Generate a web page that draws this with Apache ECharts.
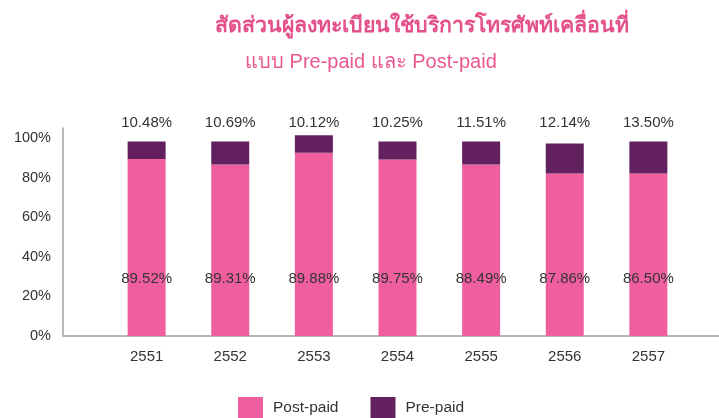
<!DOCTYPE html>
<html>
<head>
<meta charset="utf-8">
<script src="https://cdn.jsdelivr.net/npm/echarts@6/dist/echarts.min.js"></script>
<style>
  html, body { margin: 0; padding: 0; background: #fff; }
  #chart { width: 719px; height: 418px; }
</style>
</head>
<body>
<div id="chart"></div>
<script>
// years (Thai Buddhist era)
const years = ['2551', '2552', '2553', '2554', '2555', '2556', '2557']
// bar heights as drawn in the picture (%)
const postPaid = [89.3, 86.6, 92.5, 89.1, 86.6, 82.0, 82.0]
const prePaid = [8.9, 11.6, 8.8, 9.1, 11.6, 15.2, 16.2]
// printed labels
const postPaidLabels = ['89.52', '89.31', '89.88', '89.75', '88.49', '87.86', '86.50']
const prePaidLabels = ['10.48', '10.69', '10.12', '10.25', '11.51', '12.14', '13.50']
const yTicks = [0, 20, 40, 60, 80, 100]

const font = '"Liberation Sans", Arial, sans-serif'
const thaiFont = 'Tahoma, "Liberation Sans", sans-serif'

// an empty slot on each side of the years, as in the original layout
const pad = arr => [''].concat(arr, [''])
const padData = arr => [null].concat(arr, [null])

const myChart = echarts.init(document.getElementById('chart'))

const option = {
  animation: false,
  backgroundColor: '#fff',
  title: [
    {
      text: 'สัดส่วนผู้ลงทะเบียนใช้บริการโทรศัพท์เคลื่อนที่',
      left: 215,
      top: 16,
      padding: 0,
      textStyle: { color: '#e4508a', fontSize: 21.3, fontWeight: 'bold', fontFamily: thaiFont }
    },
    {
      text: 'แบบ Pre-paid และ Post-paid',
      left: 245,
      top: 52,
      padding: 0,
      textStyle: { color: '#ea5690', fontSize: 20, fontWeight: 'normal', fontFamily: thaiFont }
    }
  ],
  legend: {
    data: ['Post-paid', 'Pre-paid'],
    icon: 'rect',
    left: 238,
    top: 397,
    padding: 0,
    itemWidth: 25,
    itemHeight: 22,
    itemGap: 32,
    textStyle: { color: '#333', fontSize: 15.5, fontFamily: font, padding: [0, 0, 0, 5] }
  },
  grid: {
    left: 63,
    right: -13,
    top: 128,
    bottom: 82,
    outerBoundsMode: 'none'
  },
  xAxis: [
    {
      type: 'category',
      data: pad(years),
      boundaryGap: false,
      axisLine: { show: true, lineStyle: { color: '#a0a0a0', width: 1.5 } },
      axisTick: { show: false },
      splitLine: { show: false },
      axisLabel: {
        interval: 0,
        margin: 13,
        color: '#333',
        fontSize: 15,
        fontFamily: font
      }
    },
    {
      type: 'category',
      position: 'top',
      data: pad(prePaidLabels),
      boundaryGap: false,
      axisLine: { show: false },
      axisTick: { show: false },
      splitLine: { show: false },
      axisLabel: {
        interval: 0,
        margin: -2,
        color: '#333',
        fontSize: 15,
        fontFamily: font,
        formatter: v => (v ? v + '%' : '')
      }
    }
  ],
  yAxis: {
    type: 'value',
    min: 0,
    max: 105,
    interval: 20,
    axisLine: { show: true, lineStyle: { color: '#a0a0a0', width: 1.5 } },
    axisTick: { show: false },
    splitLine: { show: false },
    axisLabel: {
      margin: 12,
      color: '#333',
      fontSize: 14.5,
      fontFamily: font,
      padding: [0, 0, 6, 0],
      showMaxLabel: false,
      formatter: v => (yTicks.indexOf(v) >= 0 ? v + '%' : '')
    }
  },
  series: [
    {
      name: 'Post-paid',
      type: 'bar',
      stack: 'total',
      barWidth: 38,
      color: '#ef5fa0',
      data: padData(postPaid),
      label: {
        show: true,
        position: 'insideBottom',
        distance: 50,
        color: '#333',
        fontSize: 15,
        fontFamily: font,
        formatter: p => postPaidLabels[p.dataIndex - 1] + '%'
      }
    },
    {
      name: 'Pre-paid',
      type: 'bar',
      stack: 'total',
      barWidth: 38,
      color: '#63205f',
      data: padData(prePaid)
    }
  ]
}

option && myChart.setOption(option)
</script>
</body>
</html>
